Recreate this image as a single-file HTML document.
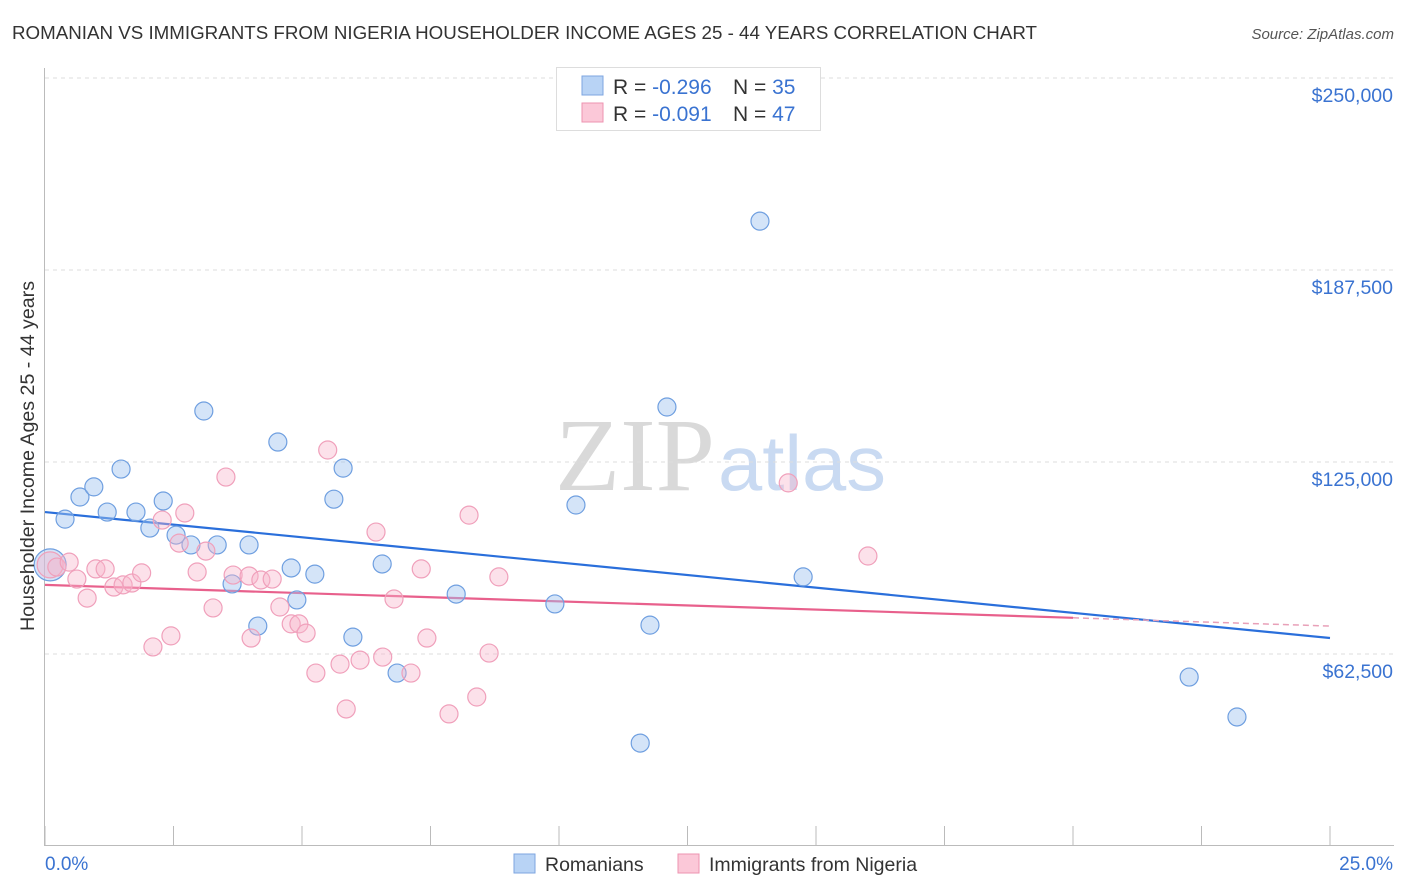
<!DOCTYPE html>
<html><head><meta charset="utf-8"><style>
body{margin:0;background:#fff;font-family:"Liberation Sans",sans-serif;}
svg{display:block}
</style></head><body>
<svg id="chart" width="1406" height="892" xmlns="http://www.w3.org/2000/svg">
<text x="12" y="39" font-size="18" fill="#333" textLength="1025" lengthAdjust="spacingAndGlyphs">ROMANIAN VS IMMIGRANTS FROM NIGERIA HOUSEHOLDER INCOME AGES 25 - 44 YEARS CORRELATION CHART</text>
<text x="1394" y="39" font-size="15" fill="#555" font-style="italic" text-anchor="end">Source: ZipAtlas.com</text>
<g><text x="635" y="490" font-family="Liberation Serif" font-size="104" fill="#d9d9d9" text-anchor="middle" textLength="160" lengthAdjust="spacingAndGlyphs">ZIP</text><text x="802" y="490" font-size="78" fill="#c9daf2" text-anchor="middle" textLength="168" lengthAdjust="spacingAndGlyphs">atlas</text></g>
<g id="grid"></g>
<g id="axes"></g>
<g id="lines"></g>
<g id="points"></g>
<text transform="translate(34,456) rotate(-90)" font-size="19" fill="#333" text-anchor="middle" textLength="350" lengthAdjust="spacingAndGlyphs">Householder Income Ages 25 - 44 years</text>
<text x="45" y="870" font-size="19" fill="#3a73d1">0.0%</text>
<text x="1393" y="870" font-size="19" fill="#3a73d1" text-anchor="end">25.0%</text>
<g>
<rect x="556.5" y="67.5" width="264" height="63" fill="#fff" stroke="#ddd"/>
<rect x="582" y="76" width="21" height="19" fill="#b8d3f5" stroke="#7ea6e0"/>
<rect x="582" y="103" width="21" height="19" fill="#fbc8d8" stroke="#ee93b0"/>
<text x="613" y="94" font-size="21" fill="#333">R = <tspan fill="#3a73d1">-0.296</tspan><tspan x="733">N = </tspan><tspan fill="#3a73d1">35</tspan></text>
<text x="613" y="121" font-size="21" fill="#333">R = <tspan fill="#3a73d1">-0.091</tspan><tspan x="733">N = </tspan><tspan fill="#3a73d1">47</tspan></text>
</g>
<g>
<rect x="514" y="854" width="21" height="19" fill="#b8d3f5" stroke="#7ea6e0"/>
<text x="545" y="871" font-size="19.5" fill="#333">Romanians</text>
<rect x="678" y="854" width="21" height="19" fill="#fbc8d8" stroke="#ee93b0"/>
<text x="709" y="871" font-size="19.5" fill="#333">Immigrants from Nigeria</text>
</g>
</svg>
<script>
const yTicks=[62500,125000,187500,250000];
const yTickLabels=["$62,500","$125,000","$187,500","$250,000"];
const xTicks=[0,2.5,5,7.5,10,12.5,15,17.5,20,22.5,25];
const roX=[0.1,0.39,0.68,0.95,1.48,1.21,1.77,2.04,2.30,2.55,2.84,3.09,3.35,3.64,3.97,4.14,4.53,4.79,4.90,5.25,5.62,5.80,5.99,6.56,6.85,8.00,9.92,10.33,11.58,11.77,12.10,13.91,14.75,22.26,23.19];
const roY=[91500,106400,113600,116900,122700,108700,108700,103500,112300,101200,98000,141600,98000,85300,98000,71600,131500,90500,80100,88500,112900,123000,68000,91800,56300,82000,78800,111000,33500,71900,142900,203400,87600,55000,42000];
const ngX=[0.1,0.23,0.47,0.62,0.82,0.99,1.17,1.34,1.52,1.69,1.88,2.10,2.45,2.28,2.61,2.72,2.96,3.13,3.27,3.52,3.66,3.97,4.01,4.20,4.42,4.57,4.79,4.94,5.08,5.27,5.50,5.74,5.86,6.13,6.44,6.57,6.79,7.12,7.32,7.43,7.86,8.25,8.40,8.64,8.83,14.46,16.01];
const ngY=[91500,90800,92400,86900,80700,90200,90200,84300,85000,85600,88900,64800,68400,106100,98600,108400,89200,96000,77500,120100,88200,87900,67700,86600,86900,77800,72300,72300,69300,56300,128900,59200,44600,60500,102200,61500,80400,56300,90200,67700,43000,107700,48500,62800,87600,118200,94400];
const roTrend=[108700,67700];
const ngTrend=[85000,71600];
const NS="http://www.w3.org/2000/svg";
const X=v=>45+v/25*1285, Y=v=>846-v/62500*192;
function mk(tag,attrs,parent){const e=document.createElementNS(NS,tag);for(const k in attrs)e.setAttribute(k,attrs[k]);document.getElementById(parent).appendChild(e);return e;}
yTicks.forEach((t,i)=>{
 const g=mk('line',{x1:45,x2:1394,y1:Y(t),y2:Y(t),stroke:'#ddd','stroke-dasharray':'4,4'},'grid');
 
 
 const l=mk('text',{x:1393,y:Y(t)+24,'font-size':19.5,fill:'#3a73d1','text-anchor':'end'},'grid');
 l.textContent=yTickLabels[i];
 
 
});
const ax=mk('line',{x1:44.5,x2:44.5,y1:68,y2:846,stroke:'#bbb'},'axes');


const bx=mk('line',{x1:45,x2:1394,y1:845.5,y2:845.5,stroke:'#bbb'},'axes');


xTicks.forEach(t=>{
 const k=mk('line',{x1:X(t),x2:X(t),y1:826,y2:846,stroke:'#bbb'},'axes');
 
 
});
const bl=mk('line',{x1:X(0),y1:Y(roTrend[0]),x2:X(25),y2:Y(roTrend[1]),stroke:'#2a6fdb','stroke-width':2.2},'lines');


const ny=x=>ngTrend[0]+(ngTrend[1]-ngTrend[0])*x/25;
const pl=mk('line',{x1:X(0),y1:Y(ny(0)),x2:X(20),y2:Y(ny(20)),stroke:'#e8608c','stroke-width':2.2},'lines');


const pd=mk('line',{x1:X(20),y1:Y(ny(20)),x2:X(25),y2:Y(ny(25)),stroke:'#e8a0b8','stroke-width':1.5,'stroke-dasharray':'6,4'},'lines');


roX.forEach((x,i)=>{
 const c=mk('circle',{cx:X(x),cy:Y(roY[i]),r:i==0?16:9,fill:'rgba(160,196,240,0.45)',stroke:'#6f9fe0','stroke-width':1.2},'points');
 
 
});
ngX.forEach((x,i)=>{
 const c=mk('circle',{cx:X(x),cy:Y(ngY[i]),r:i==0?13:9,fill:'rgba(248,180,202,0.4)',stroke:'#f0a0bb','stroke-width':1.2},'points');
 
 
});
</script>
</body></html>
